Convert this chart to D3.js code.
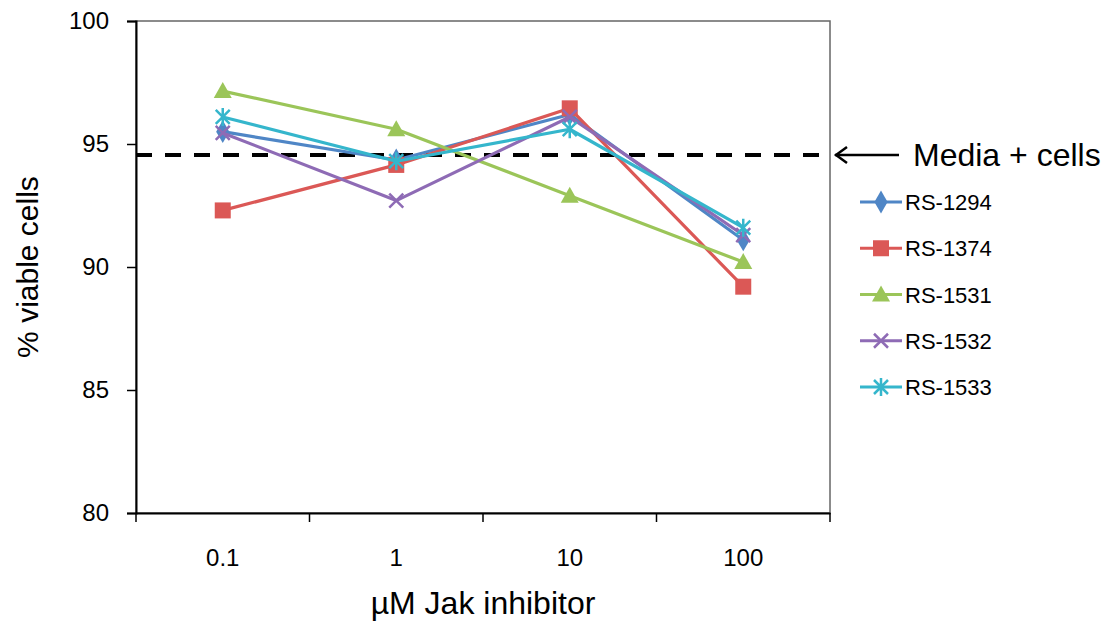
<!DOCTYPE html>
<html><head><meta charset="utf-8">
<script src="https://cdn.jsdelivr.net/npm/d3@7"></script>
<style>body{margin:0;background:#fff}svg{display:block}text{font-family:"Liberation Sans",Arial,sans-serif;fill:#000}</style>
</head><body><svg id="c" width="1110" height="625"></svg>
<script>
const categories = ["0.1","1","10","100"];
const seriesNames = ["RS-1294","RS-1374","RS-1531","RS-1532","RS-1533"];
const rs1294 = [95.5, 94.35, 96.2, 91.1];
const rs1374 = [92.3, 94.15, 96.45, 89.2];
const rs1531 = [97.15, 95.6, 92.9, 90.2];
const rs1532 = [95.45, 92.7, 96.1, 91.3];
const rs1533 = [96.1, 94.3, 95.6, 91.6];
const mediaCells = 94.55;
const yTicks = [80,85,90,95,100];
const colors = ["#4F86C6","#DB5856","#9BC559","#8E6BB5","#35B6CC"];
const markers = ["diamond","square","triangle","x","star"];

const seriesValues = [rs1294, rs1374, rs1531, rs1532, rs1533];
const svg = d3.select("#c");
const L=136, T=21, R=830, B=513;
const x = d3.scaleBand().domain(categories).range([L,R]);
const y = d3.scaleLinear().domain([80,100]).range([B,T]);
const cx = c => x(c) + x.bandwidth()/2;

// frame
svg.append("rect").attr("x",L).attr("y",T).attr("width",R-L).attr("height",B-T)
  .attr("fill","none").attr("stroke","#666").attr("stroke-width",1.5);

// y axis
const ya = svg.append("g").attr("transform",`translate(${L},0)`)
  .call(d3.axisLeft(y).tickValues(yTicks).tickSize(9).tickPadding(18).tickFormat(d3.format("d")));
ya.select(".domain").attr("stroke","#000").attr("stroke-width",2);
ya.selectAll(".tick line").attr("stroke","#000").attr("stroke-width",1.5);
ya.selectAll(".tick text").attr("font-size",24).attr("font-family","Liberation Sans, Arial, sans-serif").attr("fill","#000");

// x axis
const xa = svg.append("g").attr("transform",`translate(0,${B})`)
  .call(d3.axisBottom(x).tickSize(0).tickPadding(36));
xa.select(".domain").attr("stroke","#000").attr("stroke-width",2);
xa.selectAll(".tick text").attr("font-size",24).attr("font-family","Liberation Sans, Arial, sans-serif").attr("fill","#000");
const bounds = categories.map(c => x(c)).concat([x(categories[categories.length-1]) + x.bandwidth()]);
svg.append("g").selectAll("line").data(bounds).join("line")
  .attr("x1",d=>d).attr("x2",d=>d).attr("y1",B).attr("y2",B+9)
  .attr("stroke","#000").attr("stroke-width",1.5);

// axis titles
svg.append("text").attr("transform",`translate(38,${(T+B)/2}) rotate(-90)`)
  .attr("text-anchor","middle").attr("font-size",30).text("% viable cells");
svg.append("text").attr("x",(L+R)/2).attr("y",614).attr("text-anchor","middle")
  .attr("font-size",32).text("µM Jak inhibitor");

// dashed reference line
svg.append("line").attr("x1",L).attr("x2",R).attr("y1",y(mediaCells)).attr("y2",y(mediaCells))
  .attr("stroke","#000").attr("stroke-width",4).attr("stroke-dasharray","16,13");
// arrow + label
const ay = y(mediaCells);
svg.append("line").attr("x1",835).attr("x2",899).attr("y1",ay).attr("y2",ay).attr("stroke","#000").attr("stroke-width",2.5);
svg.append("path").attr("d",`M847,${ay-8} L836,${ay} L847,${ay+8}`).attr("fill","none").attr("stroke","#000").attr("stroke-width",2.5);
svg.append("text").attr("x",913).attr("y",ay+11).attr("font-size",32).text("Media + cells");

function drawMarker(g, type, color, px, py){
  if(type==="diamond"){
    g.append("path").attr("d",d3.symbol(d3.symbolDiamond,150)()).attr("transform",`translate(${px},${py})`).attr("fill",color);
  } else if(type==="square"){
    g.append("rect").attr("x",px-8).attr("y",py-8).attr("width",16).attr("height",16).attr("fill",color);
  } else if(type==="triangle"){
    g.append("path").attr("d",`M${px},${py-9} L${px+9},${py+7} L${px-9},${py+7}Z`).attr("fill",color);
  } else if(type==="x"){
    g.append("path").attr("d",`M${px-7},${py-7}L${px+7},${py+7}M${px-7},${py+7}L${px+7},${py-7}`).attr("stroke",color).attr("stroke-width",2.5);
  } else {
    g.append("path").attr("d",`M${px-7},${py-7}L${px+7},${py+7}M${px-7},${py+7}L${px+7},${py-7}M${px},${py-9}L${px},${py+9}`).attr("stroke",color).attr("stroke-width",2.5);
  }
}

const line = d3.line().x((d,i)=>cx(categories[i])).y(d=>y(d));
seriesValues.forEach((vals,si)=>{
  const g = svg.append("g");
  g.append("path").attr("d",line(vals)).attr("fill","none").attr("stroke",colors[si]).attr("stroke-width",3.2).attr("stroke-linejoin","round");
  vals.forEach((v,i)=>drawMarker(g, markers[si], colors[si], cx(categories[i]), y(v)));
});

// legend
const legY = d3.scalePoint().domain(seriesNames).range([202,387]);
seriesNames.forEach((n,si)=>{
  const g = svg.append("g");
  const ly = legY(n);
  g.append("line").attr("x1",860).attr("x2",902).attr("y1",ly).attr("y2",ly).attr("stroke",colors[si]).attr("stroke-width",3.2);
  drawMarker(g, markers[si], colors[si], 881, ly);
  g.append("text").attr("x",905).attr("y",ly+8).attr("font-size",22).text(n);
});
</script></body></html>
